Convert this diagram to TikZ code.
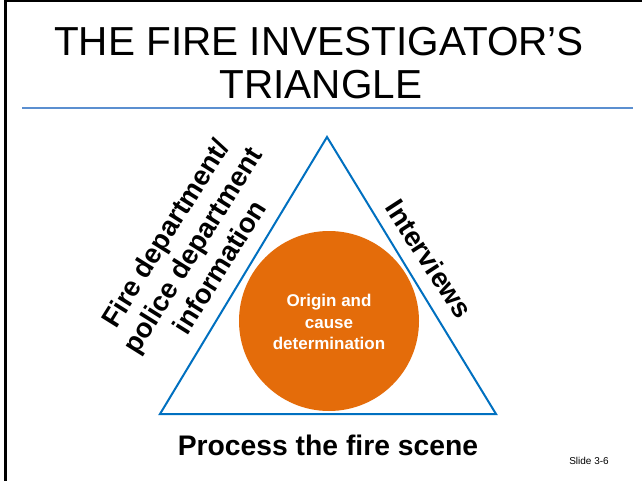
\documentclass[tikz,border=0pt]{standalone}
\usepackage{fontspec}
\setmainfont{Liberation Sans}
\definecolor{tribl}{HTML}{0070C0}
\definecolor{rulebl}{HTML}{5B8FD0}
\definecolor{fireor}{HTML}{E46C0A}
\begin{document}
\begin{tikzpicture}[x=1pt,y=-1pt,
  title/.style={font=\fontsize{40.5}{44}\selectfont, align=center, inner sep=0pt},
  sidelabel/.style={font=\bfseries\fontsize{27.5}{32}\selectfont, align=center, inner sep=0pt},
  circtext/.style={font=\bfseries\fontsize{17}{21.5}\selectfont, text=white, align=center, inner sep=0pt}]
\useasboundingbox (0,0) rectangle (642,481);
\fill[white] (0,0) rectangle (642,481);
% slide frame (left and top edges)
\draw[line width=2.5pt] (5.5,481) -- (5.5,1.2) -- (642,1.2);
% title
\node[title] (t1) at (319,42) {THE FIRE INVESTIGATOR’S};
\node[title] (t2) at (321,85) {TRIANGLE};
\coordinate (rl) at (22,108);
\coordinate (rr) at (633,108);
\draw[rulebl, line width=1.3pt] (rl) -- (rr);
% triangle
\coordinate (apex) at (327,137);
\coordinate (bl) at (160,414);
\coordinate (br) at (496,414);
\draw[tribl, line width=2pt, line join=miter] (apex) -- (br) -- (bl) -- cycle;
% circle
\node[circle, fill=fireor, minimum size=180pt, inner sep=0pt] (core) at (329,321) {};
\node[circtext] (coretxt) at (329,322) {Origin and\\cause\\determination};
% side labels
\node[sidelabel, rotate=58] (left) at (192,250) {Fire department/\\police department\\information};
\node[sidelabel, rotate=-57] (right) at (429,259) {Interviews};
\node[font=\bfseries\fontsize{28.3}{30}\selectfont, inner sep=0pt] (bottom) at (328,445) {Process the fire scene};
\node[font=\fontsize{10}{12}\selectfont, inner sep=0pt] (slide) at (589,461) {Slide 3-6};
\end{tikzpicture}
\end{document}
